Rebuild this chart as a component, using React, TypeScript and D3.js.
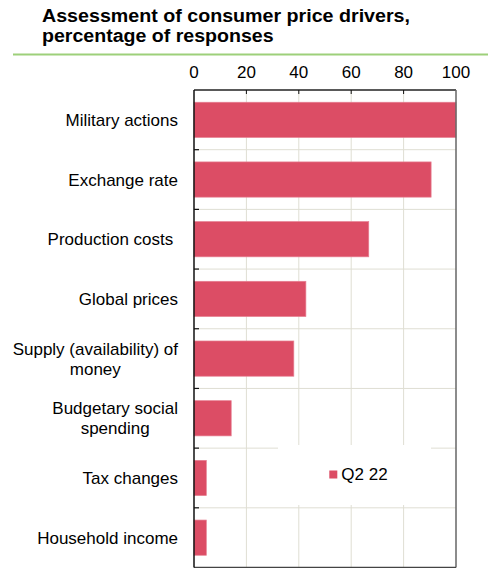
import React from "react";
import * as d3 from "d3";

const categories: string[][] = [
  ["Military actions"],
  ["Exchange rate"],
  ["Production costs "],
  ["Global prices"],
  ["Supply (availability) of", "money"],
  ["Budgetary social", "spending"],
  ["Tax changes"],
  ["Household income"],
];
const values = [100, 90.5, 66.7, 42.7, 38.1, 14.2, 4.7, 4.7];
const xTicks = [0, 20, 40, 60, 80, 100];
const seriesName = "Q2 22";
const titleLines = ["Assessment of consumer price drivers,", "percentage of responses"];

const W = 488;
const H = 568;
const FONT = "'Liberation Sans', Arial, sans-serif";
const BAR = "#dc4d65";
const GRID = "#dfded3";

let ctx: CanvasRenderingContext2D | null = null;
function measure(t: string, font: string) {
  if (!ctx) ctx = document.createElement("canvas").getContext("2d");
  if (!ctx) return t.length * 8;
  ctx.font = font;
  return ctx.measureText(t).width;
}

export default function App() {
  const x = d3.scaleLinear().domain([0, 100]).range([194, 456]);
  const keys = categories.map((c) => c.join(" "));
  const y = d3
    .scaleBand<string>()
    .domain(keys)
    .range([90, 567.5])
    .paddingInner(0.41)
    .paddingOuter(0.205);
  const step = y.step();
  const top = 90;
  const bottom = 567.5;
  const left = x(0);
  const right = x(100);
  const boundaries = d3.range(1, categories.length).map((i) => top + i * step);
  const labelRight = 178;
  const labelFont = `17px 'Liberation Sans'`;

  return (
    <svg
      width={W}
      height={H}
      style={{ position: "absolute", left: 0, top: 0, background: "#fff" }}
      fontFamily={FONT}
    >
      <rect width={W} height={H} fill="#fff" />
      {/* title */}
      <text x={42} y={21.5} fontSize={17.5} fontWeight="bold" fill="#000" textLength={368} lengthAdjust="spacingAndGlyphs">
        {titleLines[0]}
      </text>
      <text x={42} y={41.5} fontSize={17.5} fontWeight="bold" fill="#000" textLength={231.6} lengthAdjust="spacingAndGlyphs">
        {titleLines[1]}
      </text>
      <line x1={13} x2={488} y1={54.5} y2={54.5} stroke="#9dd07a" strokeWidth={2} />

      {/* x tick labels */}
      {xTicks.map((t) => (
        <text key={t} x={x(t)} y={77.5} fontSize={17} textAnchor="middle" fill="#000">
          {t}
        </text>
      ))}

      {/* grid */}
      {xTicks.slice(1, -1).map((t) => (
        <line key={"gv" + t} x1={x(t)} x2={x(t)} y1={top} y2={bottom} stroke={GRID} strokeWidth={1} />
      ))}
      {boundaries.map((b, i) => (
        <line key={"gh" + i} x1={left} x2={right} y1={b} y2={b} stroke={GRID} strokeWidth={1} />
      ))}

      {/* bars */}
      {keys.map((k, i) => (
        <rect
          key={k}
          x={x(0)}
          y={y(k)!}
          width={x(values[i]) - x(0)}
          height={y.bandwidth()}
          fill={BAR}
          stroke="#e67f91"
          strokeWidth={0.7}
        />
      ))}

      {/* legend */}
      <rect x={278} y={445} width={153} height={60} fill="#fff" />
      <rect x={329.3} y={470.5} width={8} height={8} fill={BAR} />
      <text x={341.3} y={479.5} fontSize={17} fill="#000">
        {seriesName}
      </text>

      {/* frame */}
      <line x1={left} x2={right} y1={top} y2={top} stroke="#222" strokeWidth={1.5} />
      <line x1={right} x2={right} y1={top} y2={bottom} stroke="#666" strokeWidth={1.5} />
      <line x1={left} x2={right} y1={bottom} y2={bottom} stroke="#444" strokeWidth={1.5} />
      <line x1={left} x2={left} y1={top} y2={bottom} stroke="#111" strokeWidth={1.5} />
      {xTicks.slice(1, -1).map((t) => (
        <line key={"tt" + t} x1={x(t)} x2={x(t)} y1={top} y2={top + 4} stroke="#111" strokeWidth={1} />
      ))}
      {boundaries.map((b, i) => (
        <line key={"lt" + i} x1={left} x2={left + 5} y1={b} y2={b} stroke="#111" strokeWidth={1.2} />
      ))}

      {/* category labels */}
      {categories.map((lines, i) => {
        const cy = y(keys[i])! + y.bandwidth() / 2;
        const lh = 20;
        if (lines.length === 1) {
          return (
            <text key={i} x={labelRight} y={cy + 6} fontSize={17} textAnchor="end" fill="#000" style={{ whiteSpace: "pre" }}>
              {lines[0]}
            </text>
          );
        }
        const maxW = Math.max(...lines.map((l) => measure(l, labelFont)));
        const cx = labelRight - maxW / 2;
        const y0 = cy + 6 - ((lines.length - 1) * lh) / 2;
        return (
          <text key={i} fontSize={17} textAnchor="middle" fill="#000">
            {lines.map((l, j) => (
              <tspan key={j} x={cx} y={y0 + j * lh}>
                {l}
              </tspan>
            ))}
          </text>
        );
      })}
    </svg>
  );
}
